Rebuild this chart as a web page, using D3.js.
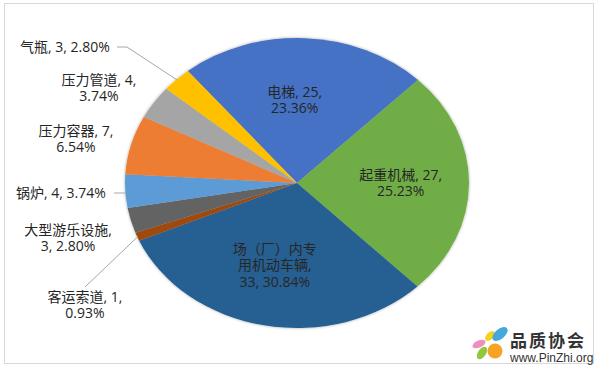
<!DOCTYPE html>
<html lang="zh">

<head>
    <meta charset="UTF-8">
    <title>特种设备分类饼图</title>
    <script src="https://d3js.org/d3.v7.min.js"></script>
    <style>
        body {
            margin: 0;
            background: #fff;
        }

        .lbl {
            font-family: "Open Sans", "Noto Sans CJK SC", sans-serif;
            font-size: 14px;
            fill: #262626;
        }
    </style>
</head>

<body>
    <svg width="597" height="369"></svg>

    <script>
        // data, clockwise from the yellow/blue boundary
        const names = ["电梯", "起重机械", "场（厂）内专用机动车辆", "客运索道", "大型游乐设施",
            "锅炉", "压力容器", "压力管道", "气瓶"];
        const counts = [25, 27, 33, 1, 3, 4, 7, 4, 3];
        const percents = ["23.36%", "25.23%", "30.84%", "0.93%", "2.80%", "3.74%", "6.54%", "3.74%", "2.80%"];
        const colors = ["#4472C4", "#70AD47", "#255E91", "#9E480E", "#636363",
            "#5B9BD5", "#ED7D31", "#A5A5A5", "#FFC000"];

        // label lines as Excel wrapped them
        const labelLines = [
            ["电梯, 25,", "23.36%"],
            ["起重机械, 27,", "25.23%"],
            ["场（厂）内专", "用机动车辆,", "33, 30.84%"],
            ["客运索道, 1,", "0.93%"],
            ["大型游乐设施,", "3, 2.80%"],
            ["锅炉, 4, 3.74%"],
            ["压力容器, 7,", "6.54%"],
            ["压力管道, 4,", "3.74%"],
            ["气瓶, 3, 2.80%"]
        ];

        const svg = d3.select("svg");
        const cx = 297, cy = 183, rx = 172, ry = 145;
        const start = -39.4 * Math.PI / 180;

        // frame
        svg.append("rect")
            .attr("x", 4.5).attr("y", 3.5)
            .attr("width", 589).attr("height", 360)
            .attr("fill", "#fff")
            .attr("stroke", "#d9d9d9");

        const defs = svg.append("defs");
        defs.append("filter").attr("id", "shadow")
            .attr("x", "-10%").attr("y", "-10%").attr("width", "120%").attr("height", "120%")
            .append("feDropShadow")
            .attr("dx", 0).attr("dy", 0).attr("stdDeviation", 1.8)
            .attr("flood-color", "#000").attr("flood-opacity", 0.35);

        const pie = d3.pie().sort(null).value(d => d)
            .startAngle(start).endAngle(start + 2 * Math.PI);
        const arcs = pie(counts);

        const arc = d3.arc().innerRadius(0).outerRadius(rx);

        svg.append("g")
            .attr("transform", `translate(${cx},${cy}) scale(1,${ry / rx})`)
            .attr("filter", "url(#shadow)")
            .selectAll("path")
            .data(arcs)
            .enter()
            .append("path")
            .attr("d", arc)
            .attr("fill", (d, i) => colors[i]);

        // point on the ellipse at a given radial fraction of a slice's mid angle
        function pt(d, f) {
            const a = (d.startAngle + d.endAngle) / 2;
            return [cx + Math.sin(a) * rx * f, cy - Math.cos(a) * ry * f];
        }

        // inside labels for the big slices, outside for the small ones
        const outsidePos = {
            3: [85, 297],
            4: [68, 230],
            5: [61, 193],
            6: [76, 131],
            7: [99, 80],
            8: [65, 47]
        };
        const insideShift = { 0: [-7, 1], 1: [4, 0], 2: [-3, 0] };
        const lineH = 16.5;

        const labels = svg.append("g");
        arcs.forEach((d, i) => {
            let x, y;
            if (outsidePos[i]) {
                [x, y] = outsidePos[i];
            } else {
                const p = pt(d, 0.58);
                const s = insideShift[i];
                const n = labelLines[i].length;
                x = p[0] + s[0];
                y = p[1] + s[1] - (n - 1) * lineH / 2;
            }
            const t = labels.append("text")
                .attr("class", "lbl")
                .attr("text-anchor", "middle")
                .attr("x", x).attr("y", y);
            labelLines[i].forEach((line, k) => {
                t.append("tspan")
                    .attr("x", x)
                    .attr("dy", k === 0 ? "0.35em" : lineH)
                    .text(line);
            });
        });

        // leader lines
        const leaders = [
            { i: 8, from: [117, 47], knee: [127, 47] },
            { i: 5, from: [114, 193], knee: null },
            { i: 3, from: [85, 287], knee: null }
        ];
        leaders.forEach(l => {
            const end = pt(arcs[l.i], 0.995);
            const ptsL = [l.from];
            if (l.knee) ptsL.push(l.knee);
            ptsL.push(l.i === 5 ? [end[0], l.from[1]] : end);
            svg.append("path")
                .attr("d", d3.line()(ptsL))
                .attr("fill", "none")
                .attr("stroke", "#a6a6a6")
                .attr("stroke-width", 1);
        });

        // watermark logo
        const logo = svg.append("g");
        const petals = [
            { x: 479, y: 344, rx: 7, ry: 3.5, rot: -25, c: "#ee8fc0" },
            { x: 490, y: 336, rx: 6, ry: 3.5, rot: -45, c: "#f7d21c" },
            { x: 500, y: 334, rx: 9, ry: 5, rot: -40, c: "#45a7dd" },
            { x: 482, y: 353, rx: 7, ry: 4, rot: -55, c: "#93c83e" }
        ];
        petals.forEach(p => {
            logo.append("ellipse")
                .attr("transform", `translate(${p.x},${p.y}) rotate(${p.rot})`)
                .attr("rx", p.rx).attr("ry", p.ry)
                .attr("fill", p.c);
        });
        logo.append("circle")
            .attr("cx", 495).attr("cy", 351).attr("r", 7.5)
            .attr("fill", "#f7a324");
        logo.append("text")
            .attr("x", 510).attr("y", 347)
            .attr("font-family", "Noto Sans CJK SC")
            .attr("font-weight", "bold")
            .attr("font-size", 17)
            .attr("letter-spacing", 2)
            .attr("fill", "#333")
            .text("品质协会");
        logo.append("text")
            .attr("x", 510).attr("y", 362)
            .attr("font-family", "Liberation Sans")
            .attr("font-size", 12)
            .attr("fill", "#333")
            .text("www.PinZhi.org");
    </script>
</body>

</html>
